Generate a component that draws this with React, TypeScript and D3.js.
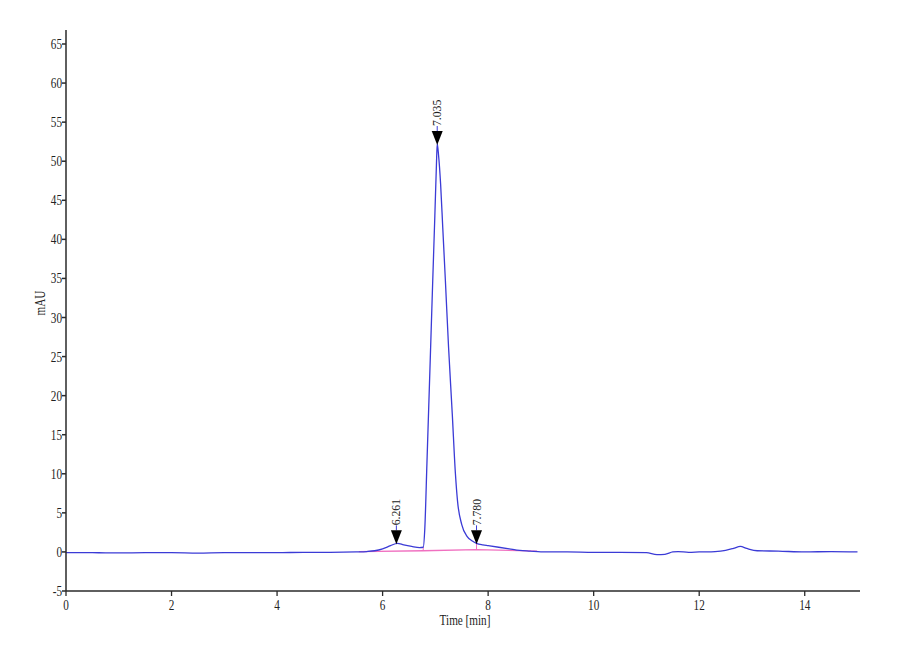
import React from "react";
import * as d3 from "d3";

// Chromatogram trace (time in min, absorbance in mAU)
const traceTime = [
  0, 0.5, 1.0, 1.5, 2.0, 2.5, 3.0, 3.5, 4.0, 4.5, 5.0, 5.5, 5.7, 5.85, 6.0, 6.15, 6.28, 6.4, 6.55, 6.7, 6.77,
  6.8, 6.84, 6.9, 6.95, 6.99, 7.02, 7.035, 7.06, 7.1, 7.14, 7.19, 7.25, 7.32, 7.38, 7.42, 7.5, 7.6, 7.7, 7.78,
  7.9, 8.0, 8.2, 8.4, 8.6, 8.8, 9.0, 9.5, 10.0, 10.5, 11.0, 11.2, 11.35, 11.5, 11.6, 11.8, 12.0, 12.3, 12.5,
  12.65, 12.78, 12.9, 13.1, 13.5, 14.0, 14.5, 15.0,
];
const traceValue = [
  -0.1, -0.1, -0.12, -0.1, -0.1, -0.15, -0.1, -0.1, -0.1, -0.05, -0.05, 0.0, 0.05, 0.15, 0.4, 0.8, 1.1, 0.9, 0.7, 0.55, 0.6,
  3.0, 11.3, 24.0, 34.7, 43.0, 49.5, 52.2, 50.8, 47.0, 41.5, 34.7, 26.2, 17.7, 10.0, 6.5, 3.5, 2.0, 1.4, 1.1,
  0.9, 0.8, 0.6, 0.4, 0.2, 0.1, 0.0, 0.0, -0.05, -0.05, -0.1, -0.35, -0.3, 0.0, 0.05, -0.05, 0.0, 0.05, 0.2,
  0.45, 0.7, 0.45, 0.15, 0.1, 0.0, 0.05, 0.0,
];

// Integration baseline (pink)
const baseTime = [5.55, 6.77, 7.78, 8.93];
const baseValue = [0.05, 0.15, 0.3, 0.1];

// Peak labels
const peakTimes = [6.261, 7.035, 7.78];
const peakLabels = ["6.261", "7.035", "7.780"];
const peakHeights = [1.1, 52.2, 1.1];
const dropTimes = [6.77, 7.78];
const dropTops = [0.6, 1.1];
const dropBottoms = [0.15, 0.3];

const xTicks = [0, 2, 4, 6, 8, 10, 12, 14];
const yTicks = [-5, 0, 5, 10, 15, 20, 25, 30, 35, 40, 45, 50, 55, 60, 65];

const W = 900;
const H = 660;
const FONT = "'Liberation Serif', 'Times New Roman', serif";
const FS = 14;
const SX = 0.8;

export default function App() {
  const x = d3.scaleLinear().domain([0, 15]).range([66, 857.5]);
  const y = d3.scaleLinear().domain([-5, 65]).range([591, 44]);
  const yTop = y(66.8);

  const pts: [number, number][] = traceTime.map((t, i) => [t, traceValue[i]]);
  const line = d3
    .line<[number, number]>()
    .x((d) => x(d[0]))
    .y((d) => y(d[1]))
    .curve(d3.curveMonotoneX);
  const basePts: [number, number][] = baseTime.map((t, i) => [t, baseValue[i]]);
  const baseLine = d3
    .line<[number, number]>()
    .x((d) => x(d[0]))
    .y((d) => y(d[1]));

  const axisColor = "#2a2a2a";
  const traceColor = "#3b3bd6";

  return (
    <svg
      width={W}
      height={H}
      viewBox={`0 0 ${W} ${H}`}
      style={{ position: "absolute", left: 0, top: 0, background: "#fff" }}
      fontFamily={FONT}
    >
      <rect x={0} y={0} width={W} height={H} fill="#fff" />
      {/* baseline */}
      <path d={baseLine(basePts) || ""} fill="none" stroke="#f070c0" strokeWidth={1.3} />
      {dropTimes.map((t, i) => (
        <line
          key={"d" + i}
          x1={x(t)}
          x2={x(t)}
          y1={y(dropBottoms[i])}
          y2={y(dropTops[i])}
          stroke="#f070c0"
          strokeWidth={1}
        />
      ))}
      {/* trace */}
      <path d={line(pts) || ""} fill="none" stroke={traceColor} strokeWidth={1.3} />

      {/* peak markers */}
      {peakTimes.map((t, i) => {
        const cx = x(t);
        const tip = y(peakHeights[i]) + 1;
        const top = tip - 14;
        const textBottom = top - 5;
        return (
          <g key={"p" + i}>
            <line x1={cx} x2={cx} y1={textBottom} y2={top} stroke={traceColor} strokeWidth={1} />
            <path d={`M${cx - 5.5},${top} L${cx + 5.5},${top} L${cx},${tip} Z`} fill="#000" />
            <text
              transform={`translate(${cx + 4},${textBottom}) rotate(-90) scale(0.9,1)`}
              fontSize={13}
              fill="#222"
            >
              {peakLabels[i]}
            </text>
          </g>
        );
      })}

      {/* axes */}
      <line x1={x(0)} x2={x(0)} y1={yTop} y2={y(-5)} stroke={axisColor} strokeWidth={1.5} />
      <line x1={x(0)} x2={860} y1={y(-5)} y2={y(-5)} stroke={axisColor} strokeWidth={1.5} />
      {yTicks.map((v) => (
        <g key={"y" + v}>
          <line x1={x(0) - 4} x2={x(0)} y1={y(v)} y2={y(v)} stroke={axisColor} strokeWidth={1.5} />
          <text
            transform={`translate(${x(0) - 4},${y(v) + 5}) scale(${SX},1)`}
            textAnchor="end"
            fontSize={FS}
            fill="#222"
          >
            {v}
          </text>
        </g>
      ))}
      {xTicks.map((v) => (
        <g key={"x" + v}>
          <line x1={x(v)} x2={x(v)} y1={y(-5)} y2={y(-5) + 5} stroke={axisColor} strokeWidth={1.3} />
          <text
            transform={`translate(${x(v)},${y(-5) + 19}) scale(${SX},1)`}
            textAnchor="middle"
            fontSize={FS}
            fill="#222"
          >
            {v}
          </text>
        </g>
      ))}
      <text
        transform={`translate(465,625) scale(${SX},1)`}
        textAnchor="middle"
        fontSize={FS}
        fill="#222"
      >
        Time [min]
      </text>
      <text transform={`translate(45,303) rotate(-90) scale(${SX},1)`} textAnchor="middle" fontSize={FS} fill="#222">
        mAU
      </text>
    </svg>
  );
}
